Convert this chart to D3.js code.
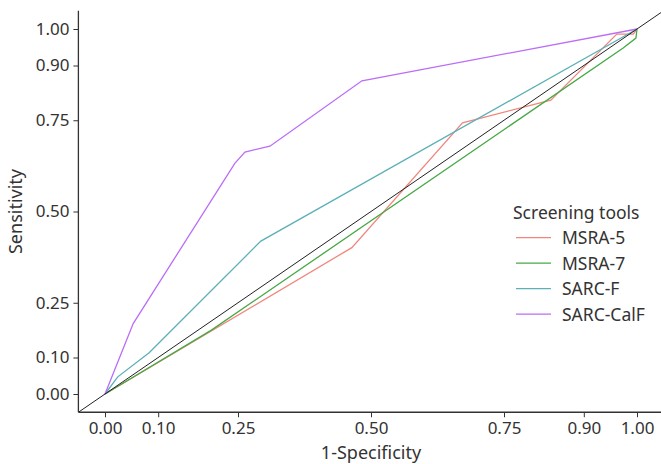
<!DOCTYPE html>
<html>
<head>
<meta charset="utf-8">
<script src="https://cdn.jsdelivr.net/npm/d3@7"></script>
<style>
  body { margin: 0; background: #fff; }
  text { font-family: "Noto Sans", sans-serif; fill: #333; }
</style>
</head>
<body>
<div id="chart"></div>
<script>
// ROC curves
const fprMSRA5 = [0, 0.464, 0.672, 0.838, 0.962, 0.993, 1];
const tprMSRA5 = [0, 0.401, 0.743, 0.805, 0.986, 0.986, 1];
const fprMSRA7 = [0, 0.2, 0.974, 0.998, 1];
const tprMSRA7 = [0, 0.175, 0.948, 0.975, 1];
const fprSARCF = [0, 0.024, 0.083, 0.293, 1];
const tprSARCF = [0, 0.047, 0.113, 0.419, 1];
const fprCalF = [0, 0.053, 0.244, 0.263, 0.31, 0.483, 1];
const tprCalF = [0, 0.193, 0.632, 0.663, 0.679, 0.858, 1];

const seriesNames = ["MSRA-5", "MSRA-7", "SARC-F", "SARC-CalF"];
const seriesColors = ["#f0877e", "#47a945", "#5cb0b6", "#bb6df7"];
const tickValues = [0, 0.1, 0.25, 0.5, 0.75, 0.9, 1];

const series = [
    {name: seriesNames[0], x: fprMSRA5, y: tprMSRA5},
    {name: seriesNames[1], x: fprMSRA7, y: tprMSRA7},
    {name: seriesNames[2], x: fprSARCF, y: tprSARCF},
    {name: seriesNames[3], x: fprCalF, y: tprCalF}
];

const W = 661, H = 464;
const svg = d3.select("#chart").append("svg")
    .attr("width", W).attr("height", H);

// scales: 0..1 mapped, panel extends 5% beyond
const x = d3.scaleLinear().domain([0, 1]).range([105, 637]);
const y = d3.scaleLinear().domain([0, 1]).range([394, 29]);
const lo = -0.05, hi = 1.05;

svg.append("defs").append("clipPath").attr("id", "panel")
    .append("rect")
    .attr("x", x(lo)).attr("y", y(hi))
    .attr("width", x(hi) - x(lo)).attr("height", y(lo) - y(hi));

const plot = svg.append("g").attr("clip-path", "url(#panel)");

const line = d3.line().x(d => x(d[0])).y(d => y(d[1]));

series.forEach((s, i) => {
    plot.append("path")
        .datum(s.x.map((v, j) => [v, s.y[j]]))
        .attr("d", line)
        .attr("fill", "none")
        .attr("stroke", seriesColors[i])
        .attr("stroke-width", 1.3);
});

// reference diagonal
plot.append("path")
    .datum([[lo, lo], [hi, hi]])
    .attr("d", line)
    .attr("fill", "none")
    .attr("stroke", "#222")
    .attr("stroke-width", 1);

// axes
const xAxis = svg.append("g")
    .attr("transform", `translate(0,${y(lo)})`)
    .call(d3.axisBottom(x).tickValues(tickValues).tickFormat(d3.format(".2f")).tickSize(5).tickPadding(5));
xAxis.select(".domain").remove();
xAxis.append("line")
    .attr("x1", x(lo)).attr("x2", x(hi))
    .attr("stroke", "#333").attr("stroke-width", 1.3);

const yAxis = svg.append("g")
    .attr("transform", `translate(${x(lo)},0)`)
    .call(d3.axisLeft(y).tickValues(tickValues).tickFormat(d3.format(".2f")).tickSize(5).tickPadding(4));
yAxis.select(".domain").remove();
yAxis.append("line")
    .attr("y1", y(lo)).attr("y2", y(hi))
    .attr("stroke", "#333").attr("stroke-width", 1.3);

svg.selectAll(".tick line").attr("stroke", "#333");
svg.selectAll(".tick text")
    .attr("font-size", 17)
    .attr("font-family", null)
    .attr("fill", "#333");

// axis titles
svg.append("text")
    .attr("x", x(0.5)).attr("y", 459)
    .attr("text-anchor", "middle")
    .attr("font-size", 18)
    .text("1-Specificity");

svg.append("text")
    .attr("transform", `translate(22,${(y(lo) + y(hi)) / 2}) rotate(-90)`)
    .attr("text-anchor", "middle")
    .attr("font-size", 18)
    .text("Sensitivity");

// legend
const legend = svg.append("g").attr("transform", "translate(513,0)");
legend.append("text")
    .attr("x", 0).attr("y", 219)
    .attr("font-size", 17.5)
    .text("Screening tools");

series.forEach((s, i) => {
    const ly = 237.7 + i * 25.5;
    legend.append("line")
        .attr("x1", 3).attr("x2", 38)
        .attr("y1", ly).attr("y2", ly)
        .attr("stroke", seriesColors[i])
        .attr("stroke-width", 1.3);
    legend.append("text")
        .attr("x", 49).attr("y", ly + 6.5)
        .attr("font-size", 17.5)
        .text(s.name);
});
</script>
</body>
</html>
